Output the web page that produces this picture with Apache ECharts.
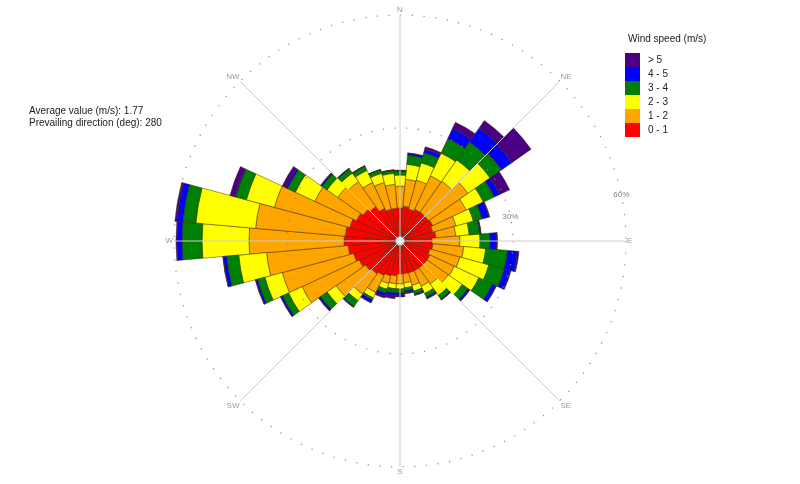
<!DOCTYPE html>
<html><head><meta charset="utf-8">
<script src="https://cdn.jsdelivr.net/npm/echarts/dist/echarts.min.js"></script>
<style>html,body{margin:0;padding:0;background:#fff}#c{width:800px;height:484px}</style>
</head><body><div id="c"></div>
<script>
// Direction sectors (deg, centre of each 10-degree sector)
const directions = ['0','10','20','30','40','50','60','70','80','90','100','110','120','130','140','150','160','170',
  '180','190','200','210','220','230','240','250','260','270','280','290','300','310','320','330','340','350'];
const speedClasses = ['0 - 1', '1 - 2', '2 - 3', '3 - 4', '4 - 5', '> 5'];
// Frequency (%) per speed class and direction
const speed0to1 = [8.76,9.29,8.76,9.29,9.29,9.29,9.56,9.03,9.56,8.50,8.76,8.23,8.76,8.76,8.76,8.76,8.76,8.76,
  8.76,9.29,9.56,10.09,10.62,11.15,11.95,12.74,13.80,14.87,14.60,13.81,12.74,11.95,11.15,9.56,8.76,8.76];
const speed1to2 = [5.84,7.17,7.96,9.82,10.09,12.74,9.82,6.37,5.31,7.43,8.23,8.23,7.17,6.90,5.20,4.51,3.45,2.39,
  2.65,2.12,2.12,5.04,6.64,9.56,16.73,19.64,21.77,25.22,23.89,20.71,12.21,8.23,8.12,7.62,7.33,6.37];
const speed2to3 = [2.92,3.98,4.78,6.64,6.90,7.17,5.04,4.78,3.58,5.31,5.84,7.96,7.17,4.51,3.69,2.12,1.59,1.33,
  1.33,1.33,1.59,1.59,2.12,2.92,3.98,4.78,7.43,12.48,15.93,7.70,5.71,3.45,2.76,3.53,2.50,2.92];
const speed3to4 = [1.06,2.39,2.79,4.25,5.84,3.72,3.19,2.39,2.79,2.65,5.84,4.25,3.98,1.86,1.19,1.06,0.80,0.80,
  1.06,1.06,1.06,0.53,1.86,2.12,1.78,2.00,3.19,5.31,3.45,2.92,2.26,1.59,1.33,1.27,0.98,0.80];
const speed4to5 = [0.13,0.53,0.93,2.92,4.51,3.45,1.59,1.86,0.27,1.86,2.65,1.59,1.06,0.53,0.27,0.40,0.27,0.53,
  0.53,0.80,0.80,0.80,0.27,0.53,0.50,0.53,0.93,1.33,1.59,0.27,0.53,0.40,0.13,0.05,0.08,0.08];
const speedAbove5 = [0.13,0.13,0.66,1.86,2.39,6.11,2.92,0.27,0.13,0.13,0.40,0.27,0.13,0.13,0.00,0.13,0.13,0.27,
  0.53,0.80,0.53,0.13,0.00,0.13,0.11,0.13,0.13,0.27,1.59,1.33,1.06,0.13,0.13,0.05,0.00,0.05];
const compassLabels = ['N', 'NE', 'E', 'SE', 'S', 'SW', 'W', 'NW'];
const radiusMax = 60, radiusStep = 30;
const averageSpeed = '1.77';
const prevailingDirection = '280';

const seriesValues = [speed0to1, speed1to2, speed2to3, speed3to4, speed4to5, speedAbove5];
const classColors = ['#ff0000', '#ffa500', '#ffff00', '#008000', '#0000ff', '#4b0082'];
const FONT = '"Liberation Sans", Arial, sans-serif';
const CENTER = [400, 241], RADIUS = 226;

const chart = echarts.init(document.getElementById('c'), null, {renderer: 'canvas'});
const option = {
  animation: false,
  textStyle: {fontFamily: FONT},
  title: [
    {text: 'Wind speed (m/s)', left: 628, top: 34, padding: 0,
     textStyle: {fontSize: 10, fontWeight: 'normal', color: '#222', fontFamily: FONT}},
    {text: 'Average value (m/s): ' + averageSpeed + '\nPrevailing direction (deg): ' + prevailingDirection,
     left: 29, top: 105, padding: 0,
     textStyle: {fontSize: 10, fontWeight: 'normal', color: '#222', lineHeight: 12, fontFamily: FONT}}
  ],
  legend: {
    orient: 'vertical', left: 625, top: 53, itemWidth: 15, itemHeight: 14, itemGap: 0,
    icon: 'rect', padding: 0,
    data: speedClasses.slice().reverse(),
    itemStyle: {borderWidth: 0},
    textStyle: {fontSize: 10, color: '#222', fontFamily: FONT, padding: [0, 0, 0, 3]}
  },
  polar: [
    {center: CENTER, radius: RADIUS},
    {center: CENTER, radius: RADIUS},
    {center: CENTER, radius: RADIUS}
  ],
  angleAxis: [
    {polarIndex: 0, type: 'category', data: directions, startAngle: 95, clockwise: true,
     axisLine: {show: false}, axisTick: {show: false}, axisLabel: {show: false}, splitLine: {show: false}},
    {polarIndex: 1, type: 'value', min: 0, max: 360, interval: 45, startAngle: 90, clockwise: true, z: 10,
     axisLine: {show: false}, axisTick: {show: false},
     splitLine: {show: true, lineStyle: {color: '#cccccc', width: 1}},
     axisLabel: {formatter: v => (v < 360 ? compassLabels[v / 45] : ''), color: '#9a9a9a', fontSize: 8, margin: 1}},
    {polarIndex: 2, type: 'value', min: 0, max: 360, startAngle: 11, clockwise: true,
     axisLine: {show: false}, axisTick: {show: false}, axisLabel: {show: false}, splitLine: {show: false}}
  ],
  radiusAxis: [
    {polarIndex: 0, type: 'value', min: 0, max: radiusMax, show: false},
    {polarIndex: 1, type: 'value', min: 0, max: radiusMax, interval: radiusStep, z: 10,
     axisLine: {show: false}, axisTick: {show: false}, axisLabel: {show: false},
     splitLine: {show: true, lineStyle: {color: '#8a8a8a', type: [1.2, 10.5], width: 1.2}}},
    {polarIndex: 2, type: 'value', min: 0, max: radiusMax, interval: radiusStep, z: 10,
     axisLine: {show: false}, axisTick: {show: false}, splitLine: {show: false},
     axisLabel: {formatter: v => (v ? v + '%' : ''), color: '#808080', fontSize: 8, margin: 3, align: 'center'}}
  ],
  series: speedClasses.map((name, i) => ({
    type: 'bar', coordinateSystem: 'polar', polarIndex: 0, name: name, stack: 'wind',
    data: seriesValues[i], barCategoryGap: '0%',
    itemStyle: {color: classColors[i], borderColor: 'rgba(50,35,0,0.8)', borderWidth: 0.6},
    emphasis: {disabled: true}
  })).concat([{
    type: 'scatter', coordinateSystem: 'polar', polarIndex: 1, data: [[0, 0]], symbolSize: 9, z: 20, silent: true,
    itemStyle: {color: '#ffffff', borderColor: '#999', borderWidth: 1}
  }])
};
chart.setOption(option);
</script>
</body></html>
